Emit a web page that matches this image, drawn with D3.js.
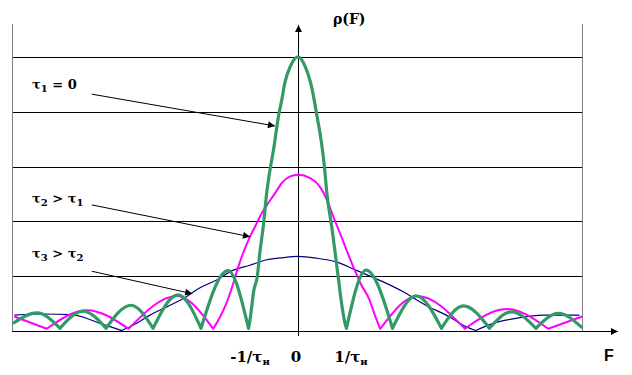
<!DOCTYPE html>
<html>
<head>
<meta charset="utf-8">
<script src="https://cdn.jsdelivr.net/npm/d3@7"></script>
<style>
  body { margin: 0; background: #fff; }
  svg { display: block; }
  .lbl { font-family: "DejaVu Serif", "Liberation Serif", serif; font-weight: bold; fill: #000; }
  .axlbl { font-family: "Liberation Sans", Arial, sans-serif; font-weight: bold; fill: #000; }
</style>
</head>
<body>
<div id="chart"></div>
<script>
// spectra: [F in units of 1/tau, rho in grid units]
const tau1 = [
  [-5.80, 0.15], [-5.33, 0.33], [-4.86, 0.05], [-4.39, 0.36], [-3.92, 0.05],
  [-3.41, 0.47], [-2.96, 0.05], [-2.45, 0.66], [-1.98, 0.05], [-1.43, 1.10],
  [-1.01, 0.05], [-0.98, 0.20], [-0.90, 0.75], [-0.83, 1.00], [-0.78, 1.42],
  [-0.71, 1.90], [-0.64, 2.51], [-0.56, 3.00], [-0.50, 3.30], [-0.45, 3.61],
  [-0.40, 3.91], [-0.33, 4.22], [-0.27, 4.52], [-0.16, 4.82], [0.00, 5.00],
  [0.15, 4.82], [0.26, 4.52], [0.33, 4.22], [0.39, 3.91], [0.45, 3.61],
  [0.50, 3.30], [0.54, 3.00], [0.59, 2.51], [0.69, 1.90], [0.76, 1.42],
  [0.82, 1.00], [0.88, 0.57], [0.96, 0.14], [0.99, 0.05], [1.39, 1.11],
  [1.93, 0.05], [2.41, 0.64], [2.93, 0.05], [3.38, 0.46], [3.91, 0.05],
  [4.36, 0.35], [4.86, 0.05], [5.32, 0.32], [5.79, 0.07]
];

const tau2 = [
  [-5.78, 0.26], [-5.13, 0.04], [-4.31, 0.38], [-3.46, 0.04], [-2.47, 0.64],
  [-1.73, 0.04], [-1.59, 0.26], [-1.46, 0.51], [-1.32, 0.87], [-1.22, 1.17],
  [-1.12, 1.42], [-0.98, 1.72], [-0.84, 1.97], [-0.74, 2.15], [-0.61, 2.33],
  [-0.47, 2.51], [-0.33, 2.70], [-0.16, 2.82], [0.00, 2.85], [0.25, 2.79],
  [0.45, 2.63], [0.62, 2.33], [0.72, 2.09], [0.86, 1.78], [0.99, 1.48],
  [1.13, 1.17], [1.27, 0.88], [1.46, 0.57], [1.57, 0.29], [1.68, 0.04],
  [2.44, 0.64], [3.41, 0.04], [4.26, 0.40], [5.11, 0.04], [5.79, 0.26]
];

const tau3 = [
  [-5.78, 0.29], [-5.21, 0.31], [-4.62, 0.30], [-4.04, 0.14], [-3.60, 0.01],
  [-3.36, 0.11], [-3.02, 0.29], [-2.68, 0.44], [-2.27, 0.63], [-2.00, 0.79],
  [-1.66, 0.93], [-1.32, 1.11], [-0.98, 1.20], [-0.64, 1.30], [-0.30, 1.34],
  [0.00, 1.36], [0.37, 1.33], [0.78, 1.26], [1.18, 1.11], [1.73, 0.90],
  [2.14, 0.72], [2.61, 0.47], [3.09, 0.26], [3.43, 0.08], [3.63, 0.01],
  [3.98, 0.14], [4.45, 0.23], [5.00, 0.29], [5.74, 0.29]
];

const gridValues = [1, 2, 3, 4, 5];
const xTickValues = [-1, 0, 1];
const xTickLabels = [["-1/τ", "и"], ["0", ""], ["1/τ", "и"]];

// annotation texts, label spot, arrow tail and head in data units
const noteTexts = [
  [["τ", 0], ["1", 1], [" = 0", 0]],
  [["τ", 0], ["2", 1], [" > τ", 0], ["1", 1]],
  [["τ", 0], ["3", 1], [" > τ", 0], ["2", 1]]
];
const noteAt = [[-5.43, 4.42], [-5.43, 2.33], [-5.43, 1.34]];
const noteTail = [[-4.21, 4.32], [-4.21, 2.30], [-4.21, 1.09]];
const noteHead = [[-0.47, 3.74], [-0.98, 1.72], [-2.16, 0.68]];

const series = [
  { data: tau3, color: "#000080", width: 1.2 },
  { data: tau2, color: "#ff00ff", width: 2 },
  { data: tau1, color: "#339966", width: 3.2 }
];

const width = 632;
const height = 375;

const xScale = d3.scaleLinear().domain([-5.84, 5.80]).range([12, 582]);
const yScale = d3.scaleLinear().domain([0, 5.6]).range([331, 24]);

const svg = d3.select("#chart")
  .append("svg")
    .attr("width", width)
    .attr("height", height);

const defs = svg.append("defs");
defs.append("marker")
    .attr("id", "head")
    .attr("viewBox", "0 0 10 10")
    .attr("refX", 10)
    .attr("refY", 5)
    .attr("markerWidth", 9)
    .attr("markerHeight", 7)
    .attr("markerUnits", "userSpaceOnUse")
    .attr("orient", "auto")
  .append("path")
    .attr("d", "M0,0L10,5L0,10z")
    .attr("fill", "#000");

const x0 = xScale.range()[0];
const x1 = xScale.range()[1];
const crisp = v => Math.round(v) + 0.5;

// grid
svg.append("g")
  .selectAll("line")
  .data(gridValues)
  .enter()
  .append("line")
    .attr("x1", x0)
    .attr("x2", x1)
    .attr("y1", d => crisp(yScale(d)))
    .attr("y2", d => crisp(yScale(d)))
    .attr("stroke", "#000");

// grey frame sides
svg.append("g")
  .selectAll("line")
  .data(xScale.domain())
  .enter()
  .append("line")
    .attr("x1", d => crisp(xScale(d)))
    .attr("x2", d => crisp(xScale(d)))
    .attr("y1", yScale.range()[1])
    .attr("y2", yScale(0))
    .attr("stroke", "#808080");

// axes with arrows
svg.append("line")
    .attr("x1", x0)
    .attr("x2", 618)
    .attr("y1", crisp(yScale(0)))
    .attr("y2", crisp(yScale(0)))
    .attr("stroke", "#000")
    .attr("marker-end", "url(#head)");

svg.append("line")
    .attr("x1", crisp(xScale(0)))
    .attr("x2", crisp(xScale(0)))
    .attr("y1", yScale(0) + 5)
    .attr("y2", 25)
    .attr("stroke", "#000")
    .attr("marker-end", "url(#head)");

// split each spectrum into lobes at its minima so the zeros stay sharp
function lobes(points) {
  const cuts = [0];
  for (let i = 1; i < points.length - 1; i++) {
    if (points[i][1] < points[i - 1][1] && points[i][1] < points[i + 1][1]) cuts.push(i);
  }
  cuts.push(points.length - 1);
  return d3.pairs(cuts).map(([a, b]) => points.slice(a, b + 1));
}

const line = d3.line()
  .curve(d3.curveMonotoneX)
  .x(d => xScale(d[0]))
  .y(d => yScale(d[1]));

svg.append("g")
  .selectAll("path")
  .data(series)
  .enter()
  .append("path")
    .attr("d", d => lobes(d.data).map(line).join(""))
    .attr("fill", "none")
    .attr("stroke", d => d.color)
    .attr("stroke-width", d => d.width)
    .attr("stroke-linecap", "round")
    .attr("stroke-linejoin", "round");

// annotations
noteTexts.forEach((parts, i) => {
  const t = svg.append("text")
    .attr("class", "lbl")
    .attr("x", xScale(noteAt[i][0]))
    .attr("y", yScale(noteAt[i][1]))
    .attr("font-size", 13);
  let low = false;
  parts.forEach(([s, sub]) => {
    const dy = sub && !low ? 3 : (!sub && low ? -3 : 0);
    low = !!sub;
    t.append("tspan")
      .attr("dy", dy)
      .attr("font-size", sub ? 10 : 13)
      .text(s);
  });

  svg.append("line")
    .attr("x1", xScale(noteTail[i][0]))
    .attr("y1", yScale(noteTail[i][1]))
    .attr("x2", xScale(noteHead[i][0]))
    .attr("y2", yScale(noteHead[i][1]))
    .attr("stroke", "#000")
    .attr("marker-end", "url(#head)");
});

// x tick labels
const ticks = svg.append("g")
  .selectAll("text")
  .data(xTickValues)
  .enter()
  .append("text")
    .attr("class", "lbl")
    .attr("x", d => xScale(d) + (d > 0 ? 4 : d < 0 ? 1 : -2))
    .attr("y", 362)
    .attr("text-anchor", "middle")
    .attr("font-size", 15);

ticks.append("tspan").text((d, i) => xTickLabels[i][0]);
ticks.append("tspan")
    .attr("dy", 3)
    .attr("font-size", 10)
    .text((d, i) => xTickLabels[i][1]);

svg.append("text")
    .attr("class", "axlbl")
    .attr("x", 604)
    .attr("y", 361)
    .attr("font-size", 16)
    .text("F");

svg.append("text")
    .attr("class", "lbl")
    .attr("x", xScale(0) + 35)
    .attr("y", 24)
    .attr("font-size", 14)
    .text("ρ(F)");
</script>
</body>
</html>
